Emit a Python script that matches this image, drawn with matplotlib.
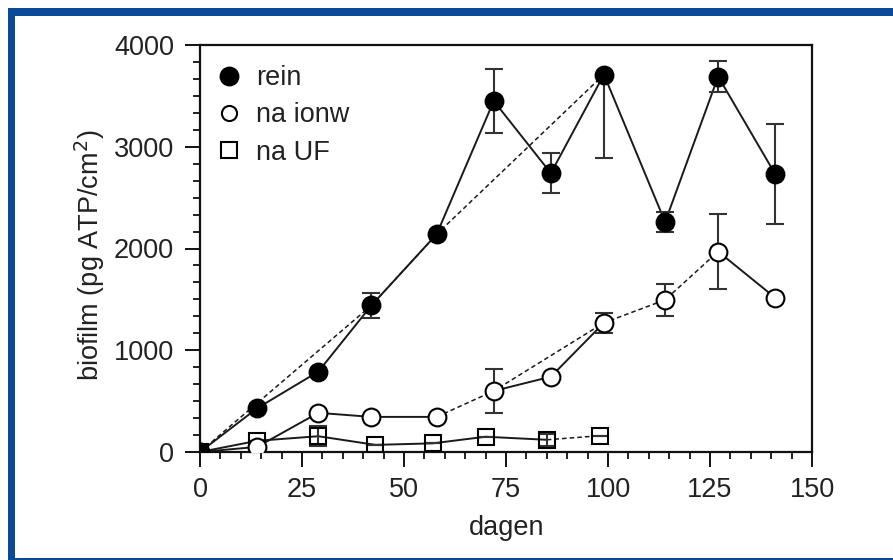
import matplotlib
matplotlib.use("Agg")
import matplotlib.pyplot as plt
import numpy as np
from matplotlib.patches import Rectangle
from matplotlib.ticker import AutoMinorLocator
from matplotlib.lines import Line2D

# ---------------- data ----------------
days_rein = [0, 14, 29, 42, 58, 72, 86, 99, 114, 127, 141]
rein = [0, 430, 790, 1440, 2140, 3450, 2740, 3710, 2260, 3690, 2730]
rein_err_lo = [0, 0, 0, 125, 0, 310, 195, 820, 100, 155, 490]
rein_err_hi = [0, 0, 0, 125, 0, 310, 195, 0, 100, 155, 490]

days_ionw = [0, 14, 29, 42, 58, 72, 86, 99, 114, 127, 141]
ionw = [0, 50, 385, 345, 345, 600, 740, 1270, 1495, 1970, 1515]
ionw_err = [0, 0, 0, 0, 0, 215, 0, 100, 155, 370, 0]

days_uf = [0, 14, 29, 43, 57, 70, 85, 98]
uf = [0, 110, 155, 70, 85, 150, 120, 160]
uf_err = [0, 0, 100, 0, 0, 0, 60, 0]

labels = ["rein", "na ionw", "na UF"]
xticks = [0, 25, 50, 75, 100, 125, 150]
yticks = [0, 1000, 2000, 3000, 4000]

# which points are joined by solid / dashed connecting lines
rein_solid = [list(range(11))]
rein_dash = [0, 3, 4, 7]
ionw_solid = [[0, 1, 2, 3, 4], [5, 6, 7], [9, 10]]
ionw_dash = [4, 5, 7, 8, 9]
uf_solid = [[0, 1, 2, 3, 4, 5, 6]]
uf_dash = [6, 7]

# ---------------- figure ----------------
plt.rcParams['font.family'] = ['Liberation Sans', 'DejaVu Sans']
W, H = 893, 560
fig = plt.figure(figsize=(W / 100, H / 100), dpi=100)
fig.patch.set_facecolor('white')

blue = '#0b4a98'
fig.patches.append(Rectangle((8 / W, 1 - 16 / H), 1 - 8 / W, 8 / H, transform=fig.transFigure,
                             facecolor=blue, edgecolor='none', zorder=0))
fig.patches.append(Rectangle((8 / W, 0), 7 / W, 1 - 8 / H, transform=fig.transFigure,
                             facecolor=blue, edgecolor='none', zorder=0))
fig.patches.append(Rectangle((8 / W, 0), 1 - 8 / W, 2.5 / H, transform=fig.transFigure,
                             facecolor=blue, edgecolor='none', zorder=0))

ax = fig.add_axes([200 / W, 1 - 452 / H, 612 / W, 407 / H])
ax.set_facecolor('white')
ax.set_xlim(0, 150)
ax.set_ylim(0, 4000)

lc = '#1a1a1a'
ms = 12.8
ecol = '#333333'
fs = 19.5


def draw_series(d, v, solid_groups, dash_idx, marker, mfc, msz):
    d = np.asarray(d, float)
    v = np.asarray(v, float)
    for g in solid_groups:
        ax.plot(d[g], v[g], '-', color=lc, lw=1.4, zorder=2)
    ax.plot(d[dash_idx], v[dash_idx], color=lc, lw=1.1, ls=(0, (3, 2)), zorder=2)
    ax.plot(d, v, ls='none', marker=marker, ms=msz, mfc=mfc, mec='black', mew=1.5, zorder=4)


for dd, vv, ee in [(days_rein, rein, [rein_err_lo, rein_err_hi]),
                   (days_ionw, ionw, ionw_err),
                   (days_uf, uf, uf_err)]:
    ax.errorbar(dd, vv, yerr=ee, fmt='none', ecolor=ecol,
                elinewidth=1.5, capsize=6.5, capthick=1.5, zorder=3)

draw_series(days_uf, uf, uf_solid, uf_dash, 's', 'none', ms * 0.95)
draw_series(days_ionw, ionw, ionw_solid, ionw_dash, 'o', 'white', ms)
draw_series(days_rein, rein, rein_solid, rein_dash, 'o', 'black', ms)

# axes styling
for s in ax.spines.values():
    s.set_linewidth(1.6)
    s.set_color('#111111')
ax.set_xticks(xticks)
ax.set_yticks(yticks)
ax.xaxis.set_minor_locator(AutoMinorLocator(5))
ax.yaxis.set_minor_locator(AutoMinorLocator(6))
ax.tick_params(which='major', direction='out', length=10.8, width=1.4, labelsize=fs,
               pad=7, colors='#111111', labelcolor='#222222')
ax.tick_params(which='minor', direction='out', length=5, width=1.3, colors='#111111')
ax.tick_params(axis='y', which='major', pad=8)
ax.tick_params(top=False, right=False, which='both')

ax.set_xlabel("dagen", fontsize=fs, color='#222222')
ax.xaxis.set_label_coords((507 - 200) / 612, -(528 - 452) / 407)
ax.xaxis.label.set_va('center')
ax.set_ylabel("biofilm (pg ATP/cm$^2$)", fontsize=fs, color='#222222')
ax.yaxis.set_label_coords((90 - 200) / 612, (452 - 255) / 407)
ax.yaxis.label.set_va('center')

handles = [
    Line2D([], [], ls='none', marker='o', ms=ms, mfc='black', mec='black', mew=1.5),
    Line2D([], [], ls='none', marker='o', ms=ms * 0.85, mfc='white', mec='black', mew=1.5),
    Line2D([], [], ls='none', marker='s', ms=ms * 0.85, mfc='none', mec='black', mew=1.5),
]
leg = ax.legend(handles, labels, loc='upper left', bbox_to_anchor=(17 / 612, 1 - 20 / 407),
                frameon=False, fontsize=fs, handlelength=0.9, handletextpad=0.55,
                labelspacing=0.42, borderpad=0, borderaxespad=0)
for t in leg.get_texts():
    t.set_color('#222222')

fig.savefig("out.png", dpi=100, facecolor='white')
